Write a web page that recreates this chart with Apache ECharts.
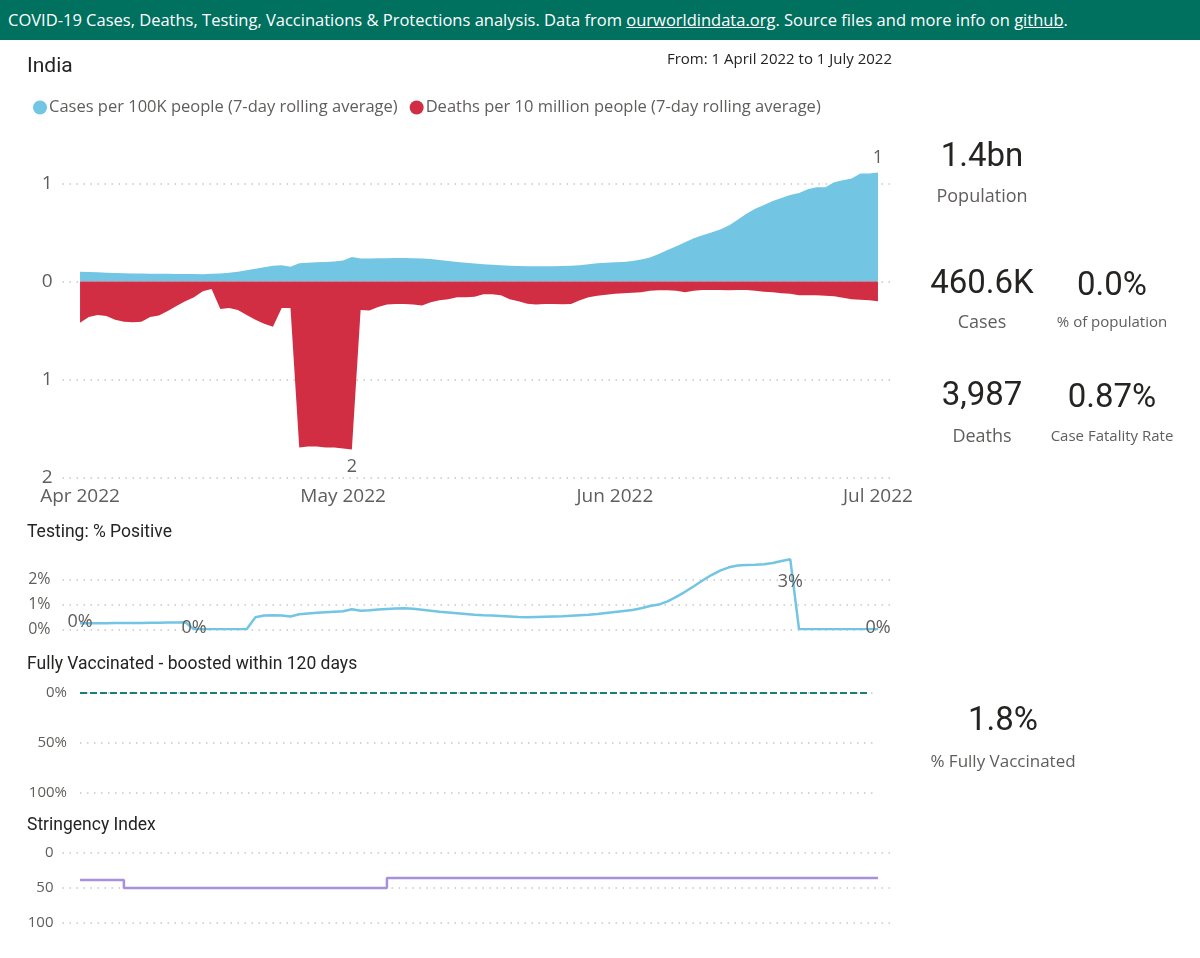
<!DOCTYPE html>
<html>
<head>
<meta charset="utf-8">
<script src="https://cdn.jsdelivr.net/npm/echarts@6/dist/echarts.min.js"></script>
<style>
html, body { margin: 0; padding: 0; background: #fff; }
#main { position: absolute; left: 0; top: 0; width: 1200px; height: 958px; }
#header {
  position: absolute; left: 0; top: 0; width: 1200px; height: 40px;
  background: #00705f; color: #fff; box-sizing: border-box; padding-left: 8px;
  font: 16.5px 'Open Sans', sans-serif; line-height: 40px; white-space: nowrap; z-index: 2;
}
#header u { text-decoration: underline; }
</style>
</head>
<body>
<div id="main"></div>
<div id="header">COVID-19 Cases, Deaths, Testing, Vaccinations &amp; Protections analysis. Data from <u>ourworldindata.org</u>. Source files and more info on <u>github</u>.</div>
<script>
// days 1 Apr 2022 .. 1 Jul 2022
var days = [];
for (var d = new Date(Date.UTC(2022, 3, 1)); d <= new Date(Date.UTC(2022, 6, 1)); d.setUTCDate(d.getUTCDate() + 1)) {
  days.push(d.toISOString().slice(0, 10));
}
var padDays = ['2022-03-30', '2022-03-31'].concat(days, ['2022-07-02', '2022-07-03']);
var monthNames = ['Jan', 'Feb', 'Mar', 'Apr', 'May', 'Jun', 'Jul', 'Aug', 'Sep', 'Oct', 'Nov', 'Dec'];

// cases per 100K (7-day avg)
var cases = [
  0.10, 0.097, 0.094, 0.09, 0.087, 0.085, 0.083, 0.081, 0.08, 0.079, 0.078, 0.077, 0.076, 0.076, 0.075, 0.078,
  0.082, 0.09, 0.10, 0.115, 0.13, 0.145, 0.16, 0.165, 0.15, 0.185, 0.19, 0.195, 0.20, 0.205, 0.215, 0.25,
  0.235, 0.235, 0.237, 0.238, 0.24, 0.24, 0.238, 0.235, 0.23, 0.22, 0.21, 0.20, 0.19, 0.183, 0.175, 0.17,
  0.165, 0.16, 0.158, 0.156, 0.155, 0.155, 0.156, 0.158, 0.16, 0.165, 0.175,
  0.185, 0.19, 0.195, 0.20, 0.21, 0.225, 0.245, 0.28, 0.32, 0.36, 0.40, 0.44, 0.47, 0.50, 0.53, 0.57,
  0.63, 0.69, 0.74, 0.78, 0.82, 0.85, 0.88, 0.90, 0.94, 0.96, 0.96, 1.01, 1.03, 1.05, 1.10, 1.10, 1.11
];
// deaths per 10 million (7-day avg), drawn below zero
var deaths = [
  -0.42, -0.36, -0.34, -0.35, -0.39, -0.41, -0.415, -0.41, -0.36, -0.345, -0.30, -0.25, -0.20, -0.16, -0.10, -0.075,
  -0.28, -0.27, -0.29, -0.34, -0.39, -0.43, -0.46, -0.27, -0.27, -1.69, -1.68, -1.68, -1.69, -1.69, -1.70, -1.71,
  -0.29, -0.295, -0.26, -0.235, -0.23, -0.23, -0.235, -0.245, -0.21, -0.19, -0.18, -0.16, -0.16, -0.155, -0.13, -0.13,
  -0.14, -0.18, -0.20, -0.225, -0.235, -0.23, -0.23, -0.232, -0.23, -0.19, -0.16, -0.145, -0.135, -0.125, -0.12, -0.115,
  -0.11, -0.095, -0.09, -0.09, -0.095, -0.11, -0.095, -0.085, -0.085, -0.085, -0.09, -0.085, -0.085, -0.095, -0.105, -0.11,
  -0.12, -0.125, -0.14, -0.14, -0.14, -0.145, -0.15, -0.165, -0.18, -0.185, -0.19, -0.20
];
// testing: % positive
var positive = [
  0.24, 0.24, 0.24, 0.24, 0.25, 0.25, 0.25, 0.25, 0.26, 0.26, 0.27, 0.27, 0.28,
  0, 0, 0, 0, 0, 0, 0,
  0.48, 0.55, 0.56, 0.55, 0.51, 0.60, 0.63, 0.66, 0.68, 0.70, 0.72, 0.80, 0.74, 0.76, 0.79, 0.81, 0.83, 0.84,
  0.82, 0.78, 0.74, 0.70, 0.67, 0.64, 0.61, 0.58, 0.56, 0.55, 0.53, 0.51, 0.49, 0.48, 0.49, 0.50, 0.51, 0.52,
  0.54, 0.56, 0.58, 0.61, 0.65, 0.69, 0.73, 0.77, 0.84, 0.93, 0.99, 1.12, 1.30, 1.50, 1.72, 1.95, 2.17, 2.35,
  2.48, 2.55, 2.57, 2.58, 2.60, 2.65, 2.73, 2.80,
  0, 0, 0, 0, 0, 0, 0, 0, 0, 0
];
// fully vaccinated, boosted within 120 days (%)
var boosted = [
  0, 0, 0, 0, 0, 0, 0, 0, 0, 0, 0, 0, 0, 0, 0, 0, 0, 0, 0, 0, 0, 0, 0, 0, 0, 0, 0, 0, 0, 0, 0,
  0, 0, 0, 0, 0, 0, 0, 0, 0, 0, 0, 0, 0, 0, 0, 0, 0, 0, 0, 0, 0, 0, 0, 0, 0, 0, 0, 0, 0, 0,
  0, 0, 0, 0, 0, 0, 0, 0, 0, 0, 0, 0, 0, 0, 0, 0, 0, 0, 0, 0, 0, 0, 0, 0, 0, 0, 0, 0, 0, 0
];
// stringency index
var stringency = [
  38.89, 38.89, 38.89, 38.89, 38.89,
  50.46, 50.46, 50.46, 50.46, 50.46, 50.46, 50.46, 50.46, 50.46, 50.46, 50.46, 50.46, 50.46, 50.46, 50.46,
  50.46, 50.46, 50.46, 50.46, 50.46, 50.46, 50.46, 50.46, 50.46, 50.46, 50.46, 50.46, 50.46, 50.46, 50.46,
  36.11, 36.11, 36.11, 36.11, 36.11, 36.11, 36.11, 36.11, 36.11, 36.11, 36.11, 36.11, 36.11, 36.11, 36.11,
  36.11, 36.11, 36.11, 36.11, 36.11, 36.11, 36.11, 36.11, 36.11, 36.11, 36.11, 36.11, 36.11, 36.11, 36.11,
  36.11, 36.11, 36.11, 36.11, 36.11, 36.11, 36.11, 36.11, 36.11, 36.11, 36.11, 36.11, 36.11, 36.11, 36.11,
  36.11, 36.11, 36.11, 36.11, 36.11, 36.11, 36.11, 36.11, 36.11, 36.11, 36.11, 36.11
];
var caseLabelIdx = [91];
var deathLabelIdx = [31];
var positiveLabels = { 0: 'inside', 13: 'inside', 81: 'bottom', 91: 'inside' };

var kpis = [
  { value: '1.4bn', label: 'Population', x: 982, y: 158, ly: 197, size: 18 },
  { value: '460.6K', label: 'Cases', x: 982, y: 285, ly: 323, size: 18 },
  { value: '0.0%', label: '% of population', x: 1112, y: 287, ly: 323, size: 15 },
  { value: '3,987', label: 'Deaths', x: 982, y: 397, ly: 437, size: 18 },
  { value: '0.87%', label: 'Case Fatality Rate', x: 1112, y: 399, ly: 437, size: 15 },
  { value: '1.8%', label: '% Fully Vaccinated', x: 1003, y: 722, ly: 762, size: 17 }
];

var gray = '#605e5c';
var gridColor = '#c8c6c4';
var sans = "'Segoe UI', 'Open Sans', sans-serif";
var din = "Roboto, 'Open Sans', sans-serif";

function pad(arr) { return [null, null].concat(arr, [null, null]); }

function labelled(arr, idx, label) {
  return arr.map(function (v, i) {
    return idx.indexOf(i) >= 0 ? { value: v, label: Object.assign({ show: true }, label) } : v;
  });
}

var positiveData = positive.map(function (v, i) {
  var pos = positiveLabels[i];
  if (!pos) return v;
  return {
    value: v,
    label: {
      show: true, position: pos, distance: 14, offset: pos === 'inside' ? [0, -1] : [0, 0],
      color: gray, fontSize: 18, fontFamily: sans,
      formatter: function (p) { return Math.round(p.value) + '%'; }
    }
  };
});

var dotted = { color: gridColor, type: [1.5, 5.5], width: 1.5 };

function hiddenX(idx, data) {
  return { type: 'category', gridIndex: idx, data: data, boundaryGap: false, show: false };
}

var myChart = echarts.init(document.getElementById('main'));

var graphics = [
  { type: 'text', style: { x: 27, y: 67, text: 'India', font: '21px ' + din, fill: '#252423', verticalAlign: 'middle' } },
  { type: 'text', style: { x: 892, y: 60, text: 'From: 1 April 2022 to 1 July 2022', font: '15px ' + sans, fill: '#252423', align: 'right', verticalAlign: 'middle' } },
  { type: 'text', style: { x: 27, y: 533, text: 'Testing: % Positive', font: '17.5px ' + din, fill: '#252423', verticalAlign: 'middle' } },
  { type: 'text', style: { x: 27, y: 665, text: 'Fully Vaccinated - boosted within 120 days', font: '17.5px ' + din, fill: '#252423', verticalAlign: 'middle' } },
  { type: 'text', style: { x: 27, y: 826, text: 'Stringency Index', font: '17.5px ' + din, fill: '#252423', verticalAlign: 'middle' } }
];
kpis.forEach(function (k) {
  graphics.push({ type: 'text', style: { x: k.x, y: k.y, text: k.value, font: '33px ' + din, fill: '#252423', align: 'center', verticalAlign: 'middle' } });
  graphics.push({ type: 'text', style: { x: k.x, y: k.ly, text: k.label, font: k.size + 'px ' + sans, fill: gray, align: 'center', verticalAlign: 'middle' } });
});

var option = {
  animation: false,
  textStyle: { fontFamily: sans },
  legend: {
    left: 28,
    top: 94,
    icon: 'circle',
    itemWidth: 14,
    itemHeight: 14,
    itemGap: 12,
    textStyle: { fontSize: 16.5, color: gray, padding: [0, 0, 0, -3] },
    data: ['Cases per 100K people (7-day rolling average)', 'Deaths per 10 million people (7-day rolling average)']
  },
  graphic: graphics,
  grid: [
    { left: 62.5, right: 304.5, top: 144, bottom: 480 },
    { left: 62.5, right: 304.5, top: 554.3, bottom: 328.7 },
    { left: 80, right: 322, top: 693, bottom: 165 },
    { left: 62.5, right: 304.5, top: 852.7, bottom: 35.3 }
  ],
  xAxis: [
    {
      type: 'category', gridIndex: 0, data: padDays, boundaryGap: false,
      axisLine: { show: false }, axisTick: { show: false }, splitLine: { show: false },
      axisLabel: {
        interval: function (i, v) { return v.slice(8) === '01'; },
        formatter: function (v) { return monthNames[+v.slice(5, 7) - 1] + ' ' + v.slice(0, 4); },
        color: gray, fontSize: 19, margin: 9
      }
    },
    hiddenX(1, padDays),
    hiddenX(2, days),
    hiddenX(3, padDays)
  ],
  yAxis: [
    {
      type: 'value', gridIndex: 0, min: -2, max: 1.4, interval: 1,
      axisLine: { show: false }, axisTick: { show: false },
      splitLine: { show: true, showMaxLine: false, lineStyle: dotted },
      axisLabel: {
        showMaxLabel: false, color: gray, fontSize: 19, margin: 10,
        formatter: function (v) { return Number.isInteger(v) ? String(Math.abs(v)) : ''; }
      }
    },
    {
      type: 'value', gridIndex: 1, min: 0, max: 3, interval: 1,
      axisLine: { show: false }, axisTick: { show: false },
      splitLine: { show: true, showMaxLine: false, lineStyle: dotted },
      axisLabel: { showMaxLabel: false, color: gray, fontSize: 16, margin: 12, formatter: '{value}%' }
    },
    {
      type: 'value', gridIndex: 2, min: 0, max: 100, interval: 50, inverse: true,
      axisLine: { show: false }, axisTick: { show: false },
      splitLine: { show: true, lineStyle: dotted },
      axisLabel: { color: gray, fontSize: 15, margin: 13, formatter: '{value}%' }
    },
    {
      type: 'value', gridIndex: 3, min: 0, max: 100, interval: 50, inverse: true,
      axisLine: { show: false }, axisTick: { show: false },
      splitLine: { show: true, lineStyle: dotted },
      axisLabel: { color: gray, fontSize: 15, margin: 9 }
    }
  ],
  series: [
    {
      name: 'Cases per 100K people (7-day rolling average)',
      type: 'line', xAxisIndex: 0, yAxisIndex: 0,
      color: '#72c5e3',
      symbol: 'circle', symbolSize: 0, showAllSymbol: true,
      lineStyle: { width: 0 },
      areaStyle: { opacity: 1 },
      data: pad(labelled(cases, caseLabelIdx, {
        position: 'top', distance: 6, color: gray, fontSize: 18,
        formatter: function (p) { return Math.round(Math.abs(p.value)); }
      }))
    },
    {
      name: 'Deaths per 10 million people (7-day rolling average)',
      type: 'line', xAxisIndex: 0, yAxisIndex: 0,
      color: '#d12e44',
      symbol: 'circle', symbolSize: 0, showAllSymbol: true,
      lineStyle: { width: 0 },
      areaStyle: { opacity: 1 },
      data: pad(labelled(deaths, deathLabelIdx, {
        position: 'bottom', distance: 8, color: gray, fontSize: 18,
        formatter: function (p) { return Math.round(Math.abs(p.value)); }
      }))
    },
    {
      name: 'Testing % positive',
      type: 'line', xAxisIndex: 1, yAxisIndex: 1,
      color: '#72c5e3',
      symbol: 'circle', symbolSize: 0, showAllSymbol: true,
      lineStyle: { width: 2.5 },
      data: pad(positiveData)
    },
    {
      name: 'Boosted within 120 days',
      type: 'line', xAxisIndex: 2, yAxisIndex: 2,
      color: '#17807a',
      symbol: 'none',
      lineStyle: { width: 2, type: [7, 3] },
      data: boosted
    },
    {
      name: 'Stringency Index',
      type: 'line', xAxisIndex: 3, yAxisIndex: 3,
      color: '#a891da',
      symbol: 'none', step: 'end',
      lineStyle: { width: 2.5 },
      // leading padding only, so the last step does not run past 1 Jul
      data: [null, null].concat(stringency)
    }
  ]
};

myChart.setOption(option);
</script>
</body>
</html>
